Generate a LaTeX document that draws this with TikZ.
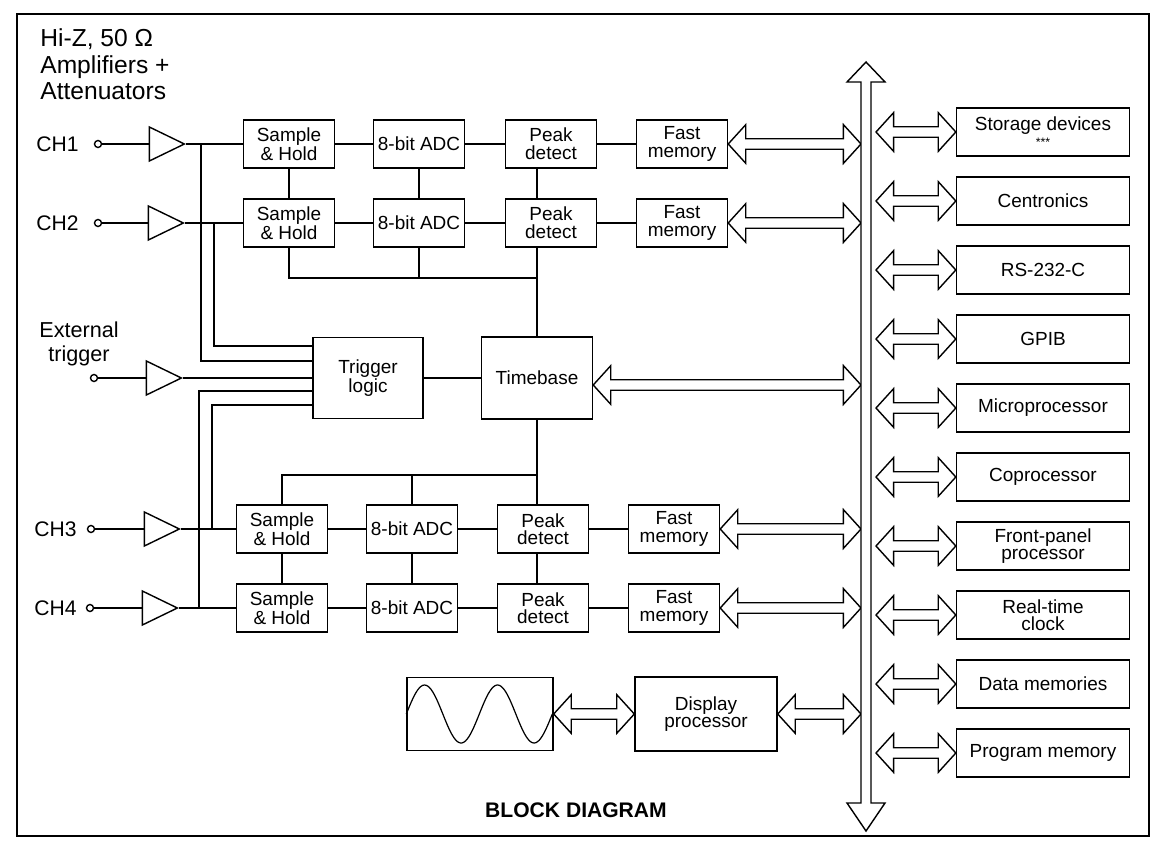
\documentclass[tikz,border=0pt]{standalone}
\usepackage{fontspec}
\setmainfont{Liberation Sans}
\usetikzlibrary{shapes.geometric, calc}

\newcommand{\boxfont}{\fontsize{10.8}{10}\selectfont}
% hollow two-headed arrow between two points on one level
\newcommand{\fatarrow}[2]{%
  \draw[fat] let \p1=(#1), \p2=(#2) in
    (\x1,\y1) -- (\x1+10pt,\y1+11pt) -- (\x1+10pt,\y1+3pt)
    -- (\x2-10pt,\y1+3pt) -- (\x2-10pt,\y1+11pt) -- (\x2,\y1)
    -- (\x2-10pt,\y1-11pt) -- (\x2-10pt,\y1-3pt)
    -- (\x1+10pt,\y1-3pt) -- (\x1+10pt,\y1-11pt) -- cycle;}

\tikzset{
  blk/.style={draw, line width=0.8pt, inner sep=1pt, align=center, font=\boxfont},
  chbox/.style={blk, minimum width=1.82cm, minimum height=0.96cm},
  iobox/.style={blk, minimum width=3.46cm, minimum height=0.96cm},
  wire/.style={line width=0.8pt},
  fat/.style={line width=0.8pt, fill=white, line join=miter},
  amp/.style={draw, isosceles triangle, isosceles triangle stretches,
    minimum width=0.68cm, minimum height=0.7cm, inner sep=0pt, line width=0.8pt},
  term/.style={draw, circle, inner sep=0pt, minimum size=0.14cm, line width=0.8pt},
  chlabel/.style={anchor=east, inner sep=0pt, font=\fontsize{12}{14}\selectfont}
}

\begin{document}
\begin{tikzpicture}[x=0.02cm, y=-0.02cm]
    \useasboundingbox (0,0) rectangle (1151,844);
    \draw[wire] (17,14) rectangle (1149,836);

    \node[anchor=north west, align=left, inner sep=0pt,
      font=\fontsize{14}{15.3}\selectfont] (ttl) at (40,28)
      {Hi-Z, 50 Ω\\Amplifiers +\\Attenuators};

    % inputs
    \node[chlabel] (lab1) at (79,144) {CH1};
    \node[chlabel] (lab2) at (79,223) {CH2};
    \node[chlabel] (lab3) at (77,529) {CH3};
    \node[chlabel] (lab4) at (77,608) {CH4};
    \node[align=center, inner sep=0pt, font=\fontsize{12.3}{14}\selectfont] (labx) at (79,344) {External\\trigger};

    \node[term] (t1) at (98,144) {};
    \node[term] (t2) at (98,223) {};
    \node[term] (tx) at (94,378) {};
    \node[term] (t3) at (91,529) {};
    \node[term] (t4) at (90,608) {};

    \node[amp] (amp1) at (160,144) {};
    \node[amp] (amp2) at (159,223) {};
    \node[amp] (ampx) at (157,378) {};
    \node[amp] (amp3) at (155,529) {};
    \node[amp] (amp4) at (153,608) {};

    % acquisition rows
    \node[chbox] (sh1) at (289,144) {Sample\\\& Hold};
    \node[chbox] (adc1) at (419,144) {8-bit ADC};
    \node[chbox] (pk1) at (551,144) {Peak\\detect};
    \node[chbox] (fm1) at (682,144) {Fast\\memory};
    \node[chbox] (sh2) at (289,223) {Sample\\\& Hold};
    \node[chbox] (adc2) at (419,223) {8-bit ADC};
    \node[chbox] (pk2) at (551,223) {Peak\\detect};
    \node[chbox] (fm2) at (682,223) {Fast\\memory};
    \node[chbox] (sh3) at (282,529) {Sample\\\& Hold};
    \node[chbox] (adc3) at (412,529) {8-bit ADC};
    \node[chbox] (pk3) at (543,529) {Peak\\detect};
    \node[chbox] (fm3) at (674,529) {Fast\\memory};
    \node[chbox] (sh4) at (282,608) {Sample\\\& Hold};
    \node[chbox] (adc4) at (412,608) {8-bit ADC};
    \node[chbox] (pk4) at (543,608) {Peak\\detect};
    \node[chbox] (fm4) at (674,608) {Fast\\memory};

    \node[blk, minimum width=2.2cm, minimum height=1.62cm] (trig) at (368,378) {Trigger\\logic};
    \node[blk, minimum width=2.22cm, minimum height=1.64cm] (tb) at (537,378) {Timebase};

    % display
    \node[draw, line width=0.8pt, minimum width=2.92cm, minimum height=1.46cm] (scr) at (480,714) {};
    \node[blk, minimum width=2.84cm, minimum height=1.48cm] (dsp) at (706,714) {Display\\processor};
    \begin{scope}[shift={(scr.west)}]
      \draw[line width=0.7pt] plot[domain=0:146, samples=90, smooth] (\x,{-29*sin(4.9315*\x)});
    \end{scope}

    \node[font=\bfseries\fontsize{12}{12}\selectfont] (cap) at (576,810) {BLOCK DIAGRAM};

    % peripherals on the bus
    \node[iobox] (sto) at (1043,132) {Storage devices\\[-1pt]{\scriptsize ***}};
    \node[iobox] (cen) at (1043,201) {Centronics};
    \node[iobox] (rs) at (1043,270) {RS-232-C};
    \node[iobox] (gpib) at (1043,339) {GPIB};
    \node[iobox] (mpu) at (1043,408) {Microprocessor};
    \node[iobox] (cop) at (1043,477) {Coprocessor};
    \node[iobox] (fpp) at (1043,546) {Front-panel\\processor};
    \node[iobox] (rtc) at (1043,615) {Real-time\\clock};
    \node[iobox] (dmem) at (1043,684) {Data memories};
    \node[iobox] (pmem) at (1043,753) {Program memory};

    % junctions
    \coordinate (j1) at (201,144);
    \coordinate (j2) at (214,223);
    \coordinate (j3) at (212,529);
    \coordinate (j4) at (199,608);
    \coordinate (tap2) at (537,278);
    \coordinate (tap3) at (537,475);
    \coordinate (busL) at (861,0);
    \coordinate (busR) at (876,0);

    % wiring
    \foreach \i in {1,2,3,4} {
      \draw[wire] (t\i) -- (amp\i.west);
      \draw[wire] (amp\i.apex) -- (sh\i.west);
      \draw[wire] (sh\i) -- (adc\i);
      \draw[wire] (adc\i) -- (pk\i);
      \draw[wire] (pk\i) -- (fm\i);
      \fatarrow{fm\i.east}{busL |- fm\i.east}
    }
    \draw[wire] (tx) -- (ampx.west);
    \draw[wire] (ampx.apex) -- (trig.west);
    \draw[wire] (j1) |- ([yshift=0.34cm]trig.west);
    \draw[wire] (j2) |- ([yshift=0.64cm]trig.west);
    \draw[wire] (j3) |- ([yshift=-0.54cm]trig.west);
    \draw[wire] (j4) |- ([yshift=-0.26cm]trig.west);

    \draw[wire] (sh1) -- (sh2);
    \draw[wire] (adc1) -- (adc2);
    \draw[wire] (pk1.south -| tb) -- (pk2.north -| tb);
    \draw[wire] (pk2.south -| tb) -- (tb.north);
    \draw[wire] (sh2.south) |- (tap2);
    \draw[wire] (adc2.south) -- (adc2.south |- tap2);

    \draw[wire] (sh3) -- (sh4);
    \draw[wire] (adc3) -- (adc4);
    \draw[wire] (pk3.south -| tb) -- (pk4.north -| tb);
    \draw[wire] (tb.south) -- (pk3.north -| tb);
    \draw[wire] (sh3.north) |- (tap3);
    \draw[wire] (adc3.north) -- (adc3.north |- tap3);

    \draw[wire] (trig) -- (tb);
    \coordinate (tbout) at ([yshift=-0.14cm]tb.east);
    \fatarrow{tbout}{busL |- tbout}
    \fatarrow{scr.east}{dsp.west}
    \fatarrow{dsp.east}{busL |- dsp.east}

    % system bus
    \draw[fat] (866,62) -- (885,82) -- (871,82) -- (871,803) -- (885,803)
      -- (866,831) -- (847,803) -- (861,803) -- (861,82) -- (847,82) -- cycle;
    \foreach \dev in {sto,cen,rs,gpib,mpu,cop,fpp,rtc,dmem,pmem} {
      \fatarrow{busR |- \dev.west}{\dev.west}
    }
\end{tikzpicture}
\end{document}
